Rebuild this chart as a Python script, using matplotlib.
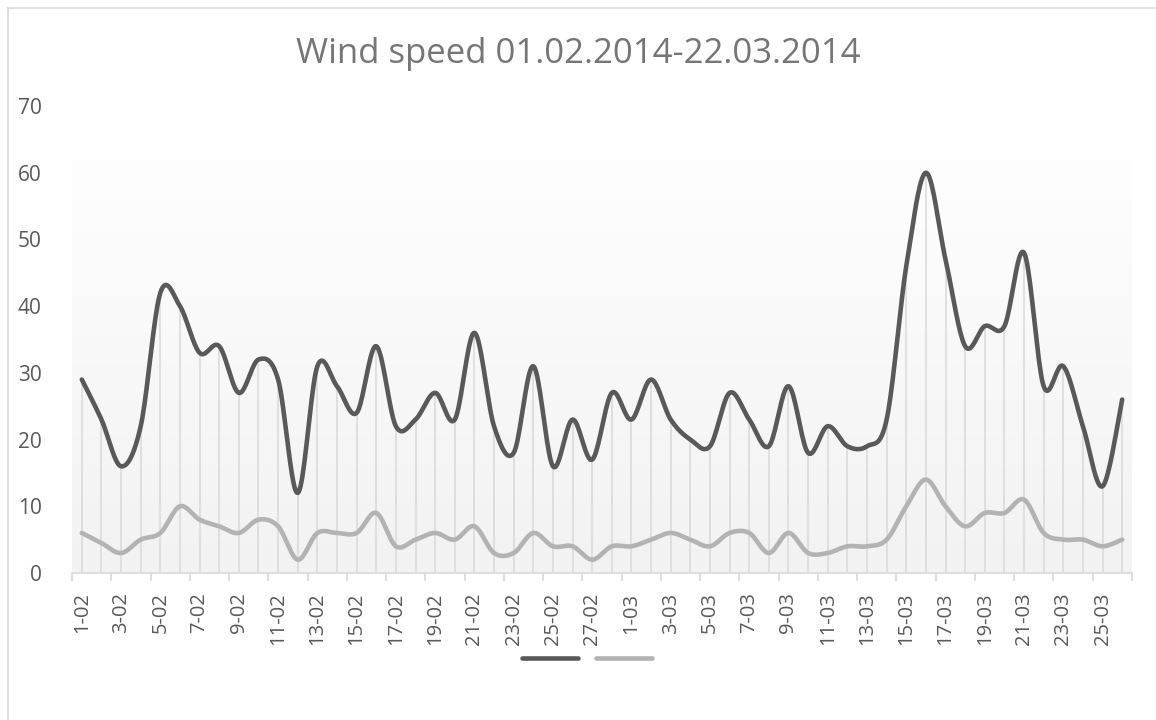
import numpy as np
import matplotlib
matplotlib.use("Agg")
import matplotlib.pyplot as plt
from matplotlib.lines import Line2D

# ---- data ----
feb_days = [f"{d}-02" for d in range(1, 29)]
mar_days = [f"{d}-03" for d in range(1, 27)]
dates = feb_days + mar_days

wind_max = [29, 23, 16, 22, 42, 40, 33, 34, 27, 32, 29, 12, 31, 28, 24, 34, 22, 23, 27, 23,
            36, 22, 18, 31, 16, 23, 17, 27,
            23, 29, 23, 20, 19, 27, 23, 19, 28, 18, 22, 19, 19, 23, 46, 60, 47, 34, 37, 37,
            48, 28, 31, 22, 13, 26]
wind_avg = [6, 4.5, 3, 5, 6, 10, 8, 7, 6, 8, 7, 2, 6, 6, 6, 9, 4, 5, 6, 5,
            7, 3, 3, 6, 4, 4, 2, 4,
            4, 5, 6, 5, 4, 6, 6, 3, 6, 3, 3, 4, 4, 5, 10, 14, 10, 7, 9, 9,
            11, 6, 5, 5, 4, 5]

y_ticks = [0, 10, 20, 30, 40, 50, 60, 70]
title = "Wind speed 01.02.2014-22.03.2014"


def smooth(x, y, n=20):
    """Catmull-Rom smoothing through the data points (like Excel's smoothed line)."""
    x = np.asarray(x, float)
    y = np.asarray(y, float)
    px = np.concatenate([[x[0]], x, [x[-1]]])
    py = np.concatenate([[y[0]], y, [y[-1]]])
    xs, ys = [], []
    t = np.linspace(0, 1, n, endpoint=False)
    for i in range(1, len(px) - 2):
        p0x, p1x, p2x, p3x = px[i - 1], px[i], px[i + 1], px[i + 2]
        p0y, p1y, p2y, p3y = py[i - 1], py[i], py[i + 1], py[i + 2]
        c1x = p1x + (p2x - p0x) / 6
        c1y = p1y + (p2y - p0y) / 6
        c2x = p2x - (p3x - p1x) / 6
        c2y = p2y - (p3y - p1y) / 6
        b0 = (1 - t) ** 3
        b1 = 3 * (1 - t) ** 2 * t
        b2 = 3 * (1 - t) * t ** 2
        b3 = t ** 3
        xs.append(b0 * p1x + b1 * c1x + b2 * c2x + b3 * p2x)
        ys.append(b0 * p1y + b1 * c1y + b2 * c2y + b3 * p2y)
    xs.append([x[-1]])
    ys.append([y[-1]])
    return np.concatenate(xs), np.concatenate(ys)


plt.rcParams['font.family'] = ['Open Sans', 'DejaVu Sans']

W, H = 1156, 720
fig = plt.figure(figsize=(W / 100, H / 100), dpi=100)
fig.patch.set_facecolor('white')

# chart border
border = '#d9d9d9'
fig.add_artist(Line2D([8 / W, 8 / W], [0, 1 - 8 / H], transform=fig.transFigure, color=border, lw=1.2))
fig.add_artist(Line2D([8 / W, 1], [1 - 8 / H, 1 - 8 / H], transform=fig.transFigure, color=border, lw=1.2))

left, right = 72 / W, 1132 / W
bottom, top = 1 - 573 / H, 1 - 106 / H
ax = fig.add_axes([left, bottom, right - left, top - bottom])
ax.set_facecolor('white')

n = len(dates)
x = np.arange(n)
ax.set_xlim(-0.5, n - 0.5)
ax.set_ylim(0, 70)

# gradient plot-area background
grad_top = 61.8
grad = np.linspace(0, 1, 256).reshape(-1, 1)
c_top = np.array([0.996, 0.996, 0.996])
c_bot = np.array([0.949, 0.949, 0.949])
img = c_bot + (c_top - c_bot) * grad
img = img.reshape(256, 1, 3)
ax.imshow(img, extent=[-0.5, n - 0.5, 0, grad_top], origin='lower', aspect='auto', zorder=0)

# drop lines
tops = np.maximum(wind_max, wind_avg)
ax.vlines(x, 0, tops, colors='#d9d9d9', lw=1.1, zorder=1)

dark = '#595959'
light = '#b3b3b3'
sx, sy = smooth(x, wind_max)
ax.plot(sx, sy, color=dark, lw=3.3, solid_capstyle='round', zorder=3)
sx, sy = smooth(x, wind_avg)
ax.plot(sx, sy, color=light, lw=3.3, solid_capstyle='round', zorder=2)

# axes styling
for s in ['left', 'right', 'top']:
    ax.spines[s].set_visible(False)
ax.spines['bottom'].set_color('#d9d9d9')
ax.spines['bottom'].set_linewidth(1.2)

ax.set_yticks(y_ticks)
ax.set_yticklabels([str(v) for v in y_ticks])
ax.tick_params(axis='y', length=0, pad=22, labelsize=15, labelcolor='#595959')

# x major ticks (marks) at boundaries every 2 categories, labels at categories
ax.set_xticks(np.arange(-0.5, n, 2))
ax.set_xticklabels([])
ax.tick_params(axis='x', which='major', length=6, width=1.2, color='#d9d9d9')
ax.set_xticks(x[::2], minor=True)
ax.set_xticklabels(dates[::2], minor=True, rotation=90, ha='center', va='top')
ax.tick_params(axis='x', which='minor', length=0, pad=14, labelsize=14.5, labelcolor='#595959')

fig.text(0.5, 1 - 54 / H, title, ha='center', va='center', fontsize=25, color='#767676')

handles = [Line2D([], [], color=dark, lw=3.3, solid_capstyle='round'),
           Line2D([], [], color=light, lw=3.3, solid_capstyle='round')]
fig.legend(handles, ['', ''], loc='center', bbox_to_anchor=(0.5 + 9 / W, 1 - 660 / H), ncol=2,
           frameon=False, fontsize=14, handlelength=2.9, handletextpad=0.0, columnspacing=0.9)

fig.savefig('out.png', dpi=100, facecolor='white')
